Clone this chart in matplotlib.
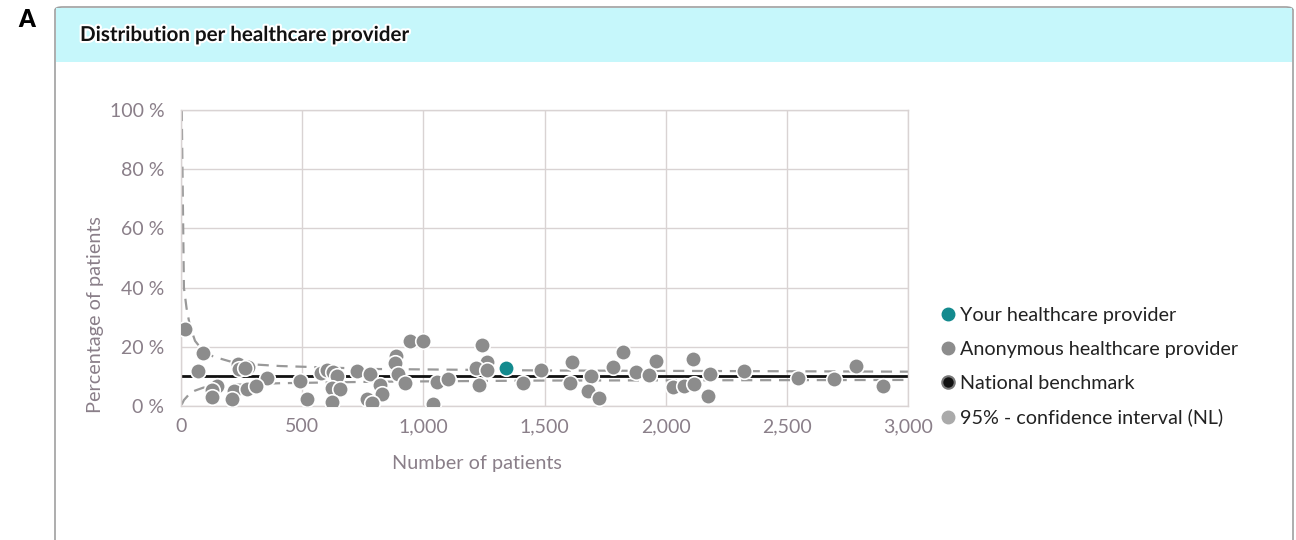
import matplotlib
matplotlib.use("Agg")
import matplotlib.pyplot as plt
import matplotlib.patheffects as pe
from matplotlib.patches import Rectangle, FancyBboxPatch
from matplotlib.lines import Line2D
from matplotlib.ticker import FuncFormatter

plt.rcParams['font.family'] = ['Lato', 'DejaVu Sans']

# Données
anon_n = [16, 92, 71, 237, 278, 240, 265, 354, 147, 127, 127, 220, 209, 271, 310,
          491, 519, 578, 601, 629, 642, 622, 656, 624, 725, 780, 821, 828, 766, 787,
          886, 883, 897, 924, 945, 1000, 1041, 1055, 1101, 1244, 1262, 1217, 1262, 1231,
          1410, 1485, 1615, 1605, 1691, 1681, 1725, 1784, 1825, 1878, 1933, 1960,
          2032, 2076, 2118, 2112, 2183, 2174, 2325, 2548, 2696, 2784, 2896]
anon_pct = [25.9, 17.8, 11.9, 14.2, 13.3, 12.5, 12.8, 9.6, 6.8, 5.4, 3.2, 5.1, 2.4, 5.6, 6.8,
            8.4, 2.3, 11.3, 12.2, 11.6, 10.1, 6.2, 5.6, 1.5, 11.9, 10.8, 7.1, 4.1, 2.3, 0.9,
            16.9, 14.4, 10.8, 7.9, 22.1, 22.1, 0.7, 8.2, 9.1, 20.6, 15.0, 12.7, 12.2, 7.1,
            7.7, 12.2, 15.0, 7.9, 10.1, 5.1, 2.6, 13.3, 18.4, 11.6, 10.5, 15.2,
            6.3, 6.8, 7.4, 15.9, 10.8, 3.5, 11.8, 9.3, 9.1, 13.5, 6.8]
your_n = [1340]
your_pct = [12.9]

benchmark = 10.1

ci_n = [3, 12, 23, 37, 58, 92, 133, 230, 409, 800, 1500, 3000]
ci_upper = [100, 40, 33, 27, 22, 18.5, 16.7, 14.4, 13.5, 12.5, 12.0, 11.6]
ci_lower = [0.5, 2.0, 3.0, 4.3, 5.2, 6.2, 6.7, 7.2, 7.7, 8.2, 8.6, 8.8]

W, H = 1296, 540
fig = plt.figure(figsize=(W / 100, H / 100), dpi=100)

# Cadre de la carte + bandeau du titre
card = FancyBboxPatch((55 / W, -0.05), (1293 - 55) / W, (H - 7) / H + 0.05,
                      boxstyle="round,pad=0,rounding_size=0.006",
                      transform=fig.transFigure, facecolor='white',
                      edgecolor='#a0a0a0', lw=1.2, zorder=-2)
fig.patches.append(card)
band = Rectangle((56 / W, 1 - 62 / H), (1292 - 56) / W, (62 - 8) / H,
                 transform=fig.transFigure, facecolor='#c6f7fb', edgecolor='none', zorder=-1)
fig.patches.append(band)

fig.text(18 / W, 1 - 20 / H, 'A', fontsize=17, fontweight='heavy', va='center', ha='left')
fig.text(80 / W, 1 - 35 / H, 'Distribution per healthcare provider', fontsize=14.8,
         fontweight='bold', color='#111111', va='center', ha='left',
         path_effects=[pe.withStroke(linewidth=3, foreground='white')])

ax = fig.add_axes([181 / W, 1 - 406 / H, (908 - 181) / W, (406 - 110) / H], zorder=2)
ax.set_xlim(0, 3000)
ax.set_ylim(0, 100)
ax.set_facecolor('none')

grid_col = '#d9d3d3'
ax.grid(True, color=grid_col, lw=1)
ax.set_axisbelow(True)
for s in ax.spines.values():
    s.set_color(grid_col)
    s.set_linewidth(1)

ax.set_xticks(range(0, 3001, 500))
ax.set_yticks(range(0, 101, 20))
ax.xaxis.set_major_formatter(FuncFormatter(lambda v, p: f"{v:,.0f}"))
ax.yaxis.set_major_formatter(FuncFormatter(lambda v, p: f"{int(v)} %"))
tick_col = '#8a7f89'
ax.tick_params(length=0, labelsize=14, colors=tick_col)
ax.tick_params(axis='y', pad=12)
ax.tick_params(axis='x', pad=9)

# Intervalle de confiance et référence nationale
ax.plot(ci_n, ci_upper, color='#999999', lw=1.6, ls=(0, (5, 3.5)), zorder=2)
ax.plot(ci_n, ci_lower, color='#999999', lw=1.6, ls=(0, (5, 3.5)), zorder=2)
ax.axhline(benchmark, color='#111111', lw=2, zorder=2.5)

ax.scatter(anon_n, anon_pct, s=125, color='#8c8c8c', edgecolor='white', lw=1.2, zorder=3)
ax.scatter(your_n, your_pct, s=125, color='#138a8e', edgecolor='white', lw=1.2, zorder=4)

fig.text(95 / W, 1 - 315 / H, 'Percentage of patients', rotation=90, fontsize=14.3,
         color=tick_col, ha='center', va='center')
fig.text(477 / W, 1 - 463 / H, 'Number of patients', fontsize=14.3,
         color=tick_col, ha='center', va='center')

handles = [
    Line2D([], [], ls='none', marker='o', ms=9, color='#138a8e', mec='#138a8e'),
    Line2D([], [], ls='none', marker='o', ms=9, color='#8c8c8c', mec='#8c8c8c'),
    Line2D([], [], ls='none', marker='o', ms=9, color='#111111', mec='#777777', mew=1.5),
    Line2D([], [], ls='none', marker='o', ms=9, color='#aaaaaa', mec='#aaaaaa'),
]
labels = ['Your healthcare provider', 'Anonymous healthcare provider',
          'National benchmark', '95% - confidence interval (NL)']
fig.legend(handles, labels, loc='center left', bbox_to_anchor=(932 / W, 1 - 367 / H),
           frameon=False, fontsize=14.2, labelcolor='#222222', handlelength=0.6,
           handletextpad=0.3, labelspacing=0.85, borderpad=0)

fig.savefig('out.png', dpi=100)
